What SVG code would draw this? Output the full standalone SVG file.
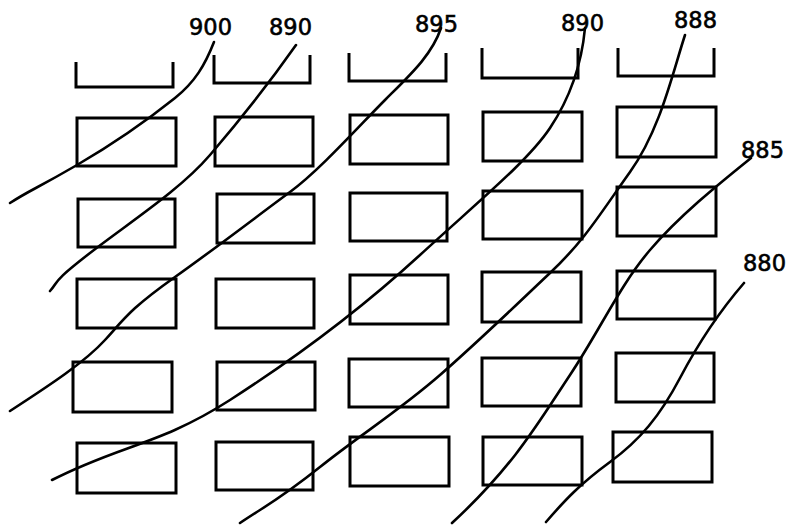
<svg xmlns="http://www.w3.org/2000/svg" width="789" height="527" viewBox="0 0 789 527">
<style>
.cell{fill:none;stroke:#000;stroke-width:3}
.br{fill:none;stroke:#000;stroke-width:3}
.wire{fill:none;stroke:#000;stroke-width:2.6;stroke-linecap:round;stroke-linejoin:round}
.lbl{font-family:"DejaVu Sans",sans-serif;font-size:22.5px;fill:#000;stroke:#000;stroke-width:0.6}
</style>
<rect width="789" height="527" fill="#fff"/>
<g id="brackets">
<path class="br" d="M76,62 V87 H173 V62"/>
<path class="br" d="M214,55 V83 H310 V55"/>
<path class="br" d="M349,53 V81 H446 V53"/>
<path class="br" d="M482,48 V78 H578 V48"/>
<path class="br" d="M618,48 V76 H714 V48"/>
</g>
<g id="cells">
<rect class="cell" x="77" y="118" width="99" height="48"/>
<rect class="cell" x="78" y="199" width="97" height="48"/>
<rect class="cell" x="77" y="279" width="99" height="49"/>
<rect class="cell" x="73" y="362" width="99" height="50"/>
<rect class="cell" x="77" y="443" width="99" height="50"/>
<rect class="cell" x="215" y="117" width="98" height="49"/>
<rect class="cell" x="217" y="194" width="97" height="49"/>
<rect class="cell" x="216" y="279" width="98" height="49"/>
<rect class="cell" x="217" y="362" width="98" height="48"/>
<rect class="cell" x="216" y="442" width="97" height="48"/>
<rect class="cell" x="350" y="115" width="98" height="49"/>
<rect class="cell" x="350" y="193" width="97" height="48"/>
<rect class="cell" x="350" y="275" width="98" height="49"/>
<rect class="cell" x="349" y="359" width="99" height="48"/>
<rect class="cell" x="350" y="437" width="99" height="49"/>
<rect class="cell" x="483" y="112" width="99" height="49"/>
<rect class="cell" x="483" y="191" width="99" height="48"/>
<rect class="cell" x="482" y="272" width="99" height="50"/>
<rect class="cell" x="482" y="358" width="99" height="48"/>
<rect class="cell" x="483" y="437" width="99" height="48"/>
<rect class="cell" x="617" y="107" width="99" height="50"/>
<rect class="cell" x="617" y="187" width="99" height="49"/>
<rect class="cell" x="617" y="271" width="98" height="48"/>
<rect class="cell" x="616" y="353" width="98" height="49"/>
<rect class="cell" x="613" y="432" width="99" height="50"/>
</g>
<g id="connectors">
<path id="w900" class="wire" d="M214,42 C205,65 195,82 175,98 S120,140 77,165 S30,190 10,203"/>
<path id="w890a" class="wire" d="M296,45 C270,82 240,120 210,155 S130,222 90,253 S60,280 50,291"/>
<path id="w895" class="wire" d="M441,28 C432,55 410,75 385,100 S320,170 290,192 S220,245 175,277 S125,318 105,340 S50,385 10,411"/>
<path id="w890b" class="wire" d="M585,28 C582,60 572,95 550,128 S480,200 420,255 S300,355 230,400 S120,445 52,480"/>
<path id="w888" class="wire" d="M685,35 C672,75 660,130 630,172 S585,240 550,273 S480,340 440,375 S360,435 320,467 S270,503 240,523"/>
<path id="w885" class="wire" d="M751,158 C720,183 680,215 650,250 S600,330 570,375 S515,465 452,523"/>
<path id="w880" class="wire" d="M744,283 C725,305 700,340 680,378 S640,440 610,462 S565,500 546,522"/>
</g>
<g id="labels">
<text class="lbl" x="189" y="35">900</text>
<text class="lbl" x="269" y="35">890</text>
<text class="lbl" x="415" y="32">895</text>
<text class="lbl" x="561" y="31">890</text>
<text class="lbl" x="674" y="28">888</text>
<text class="lbl" x="741" y="158">885</text>
<text class="lbl" x="743" y="271">880</text>
</g>
</svg>
